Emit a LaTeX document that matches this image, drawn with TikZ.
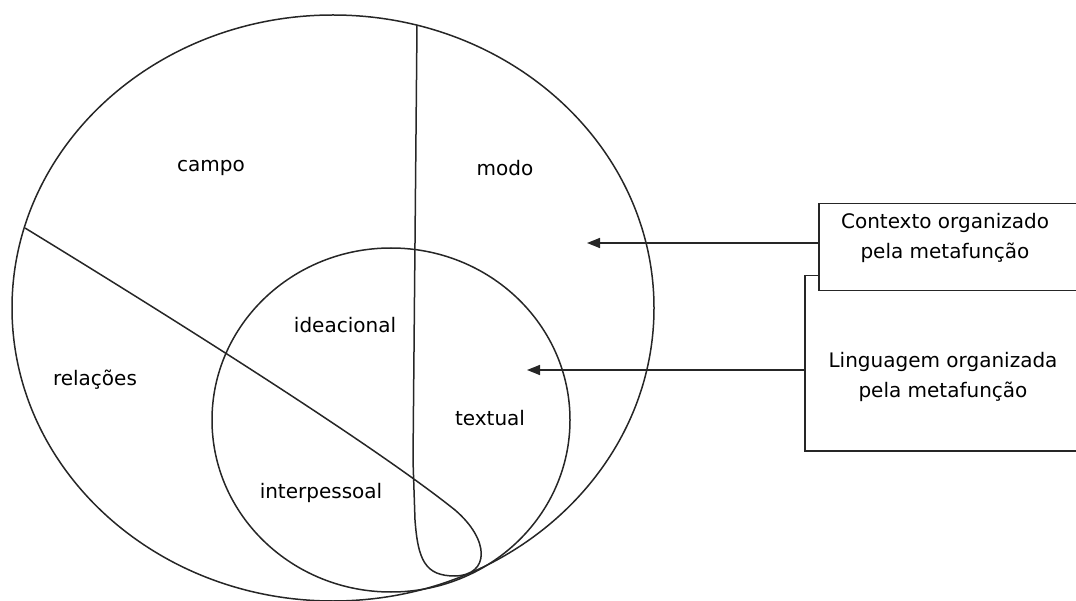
\documentclass[tikz,border=0pt]{standalone}
\usepackage{fontspec}
\setmainfont{DejaVu Sans}
\usetikzlibrary{arrows.meta}

\begin{document}
\begin{tikzpicture}[x=1pt,y=-1pt,
  curve/.style={draw=black!85,line width=1.5pt},
  region/.style={font=\fontsize{20}{30}\selectfont,inner sep=0pt},
  notebox/.style={draw=black!85,line width=1.5pt,fill=white,inner sep=0pt,anchor=north west},
  notetext/.style={font=\fontsize{20}{30}\selectfont,align=center,inner sep=0pt},
  pointer/.style={draw=black!85,line width=1.5pt,-{Triangle[length=13pt,width=10pt]}}]
\useasboundingbox (0,0) rectangle (1076,601);

% context (outer) and language (inner) ellipses
\draw[curve] (333,308) ellipse [x radius=321pt, y radius=293pt];
\draw[curve] (391,420) ellipse [x radius=179pt, y radius=172pt];

% dividing line: diagonal, loop at the bottom, then up to the top
\draw[curve,line join=round]
  (25,228) .. controls (200,335) and (380,450) .. (455,510)
  .. controls (490,540) and (490,575) .. (455,576)
  .. controls (425,576) and (418,560) .. (415,520)
  -- (413,460) -- (417,25);

% region labels
\node[region] (campo) at (211,168) {campo};
\node[region] (modo) at (505,168) {modo};
\node[region] (relacoes) at (95,380) {relações};
\node[region] (ideacional) at (345,325) {ideacional};
\node[region] (textual) at (490,418) {textual};
\node[region] (interpessoal) at (321,493) {interpessoal};

% explanatory boxes (right edges run past the page)
\node[notebox,minimum width=300pt,minimum height=175pt] (lingbox) at (804,275) {};
\node[notetext] (ling) at (943,377) {Linguagem organizada\\pela metafunção};
\node[notebox,minimum width=300pt,minimum height=87pt] (ctxbox) at (818,203) {};
\node[notetext] (ctx) at (945,238) {Contexto organizado\\pela metafunção};

% arrows into the ellipses
\coordinate (ctxtip) at (587,243);
\coordinate (lingtip) at (527,370);
\draw[pointer] (ctxbox.west |- ctxtip) -- (ctxtip);
\draw[pointer] (lingbox.west |- lingtip) -- (lingtip);
\end{tikzpicture}
\end{document}
